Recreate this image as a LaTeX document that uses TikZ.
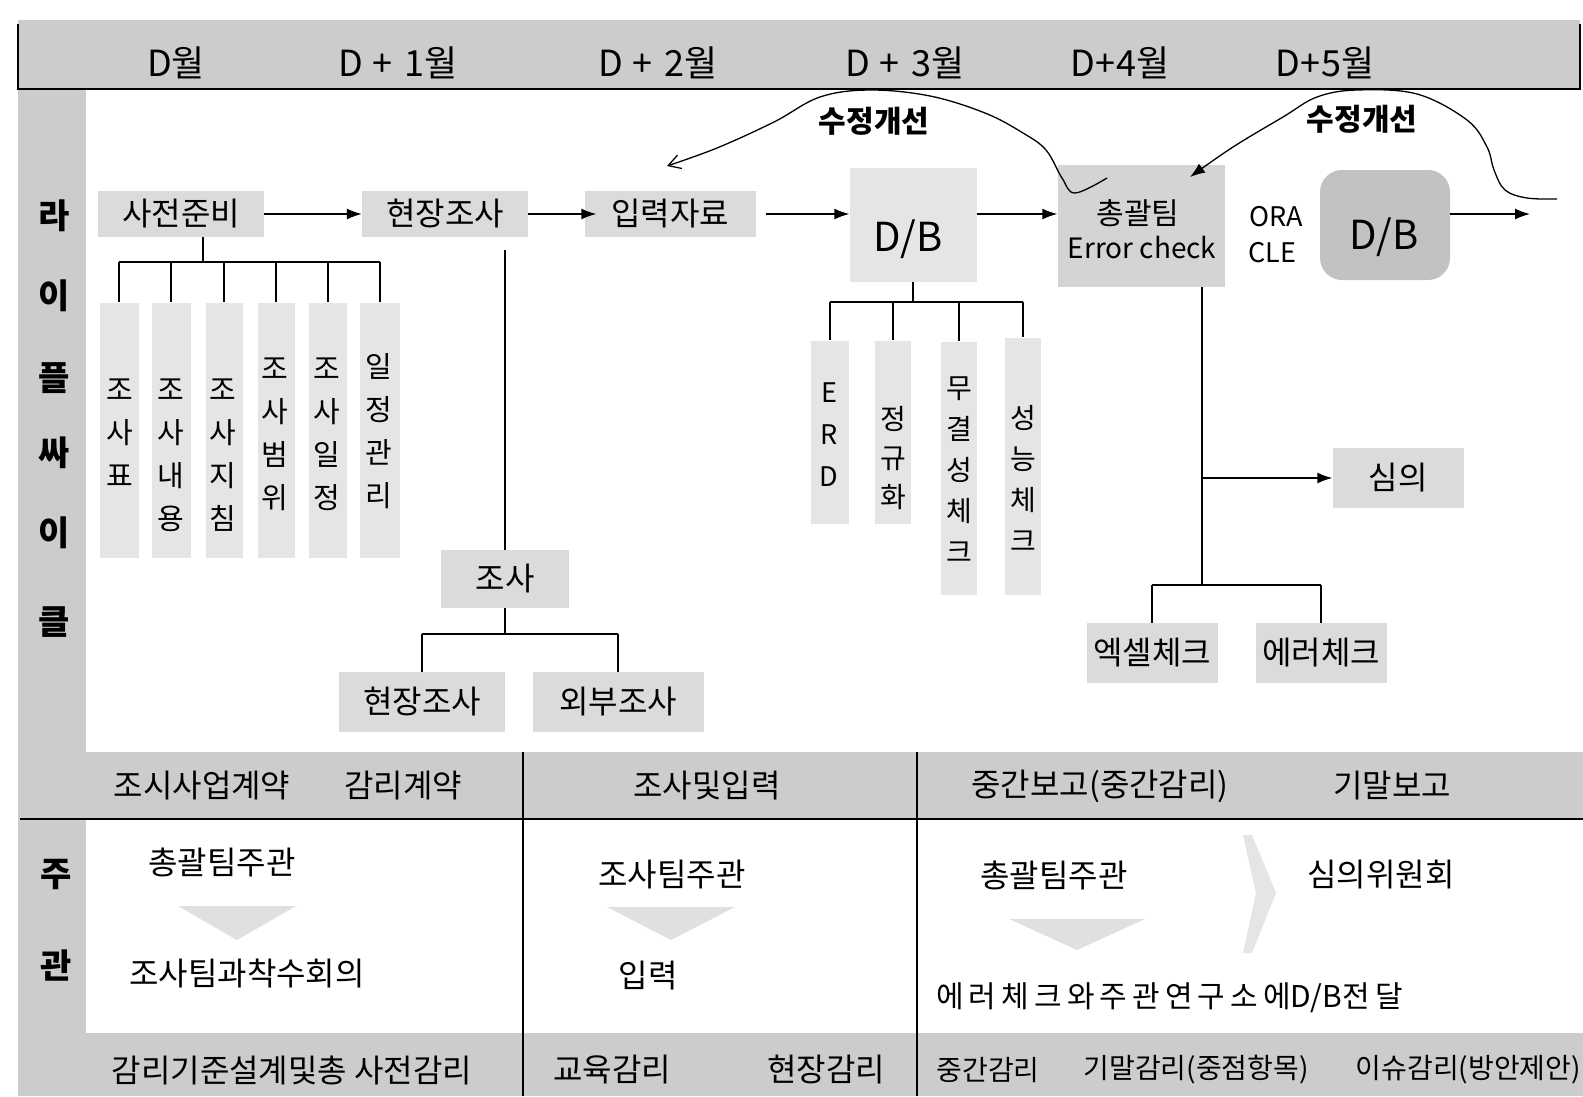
\documentclass[tikz,border=0pt]{standalone}
\usepackage{fontspec}
\setmainfont{Noto Sans CJK KR}
\usetikzlibrary{arrows.meta}
\begin{document}
\begin{tikzpicture}[x=1pt,y=-1pt,
  txt/.style={inner sep=0pt, font=\fontsize{32}{38}\selectfont},
  mon/.style={inner sep=0pt, font=\fontsize{36}{40}\selectfont},
  side/.style={inner sep=0pt, font=\bfseries\fontsize{34}{40}\selectfont},
  vtxt/.style={inner sep=0pt, align=center, font=\fontsize{29}{43}\selectfont},
  vtxtb/.style={inner sep=0pt, align=center, font=\fontsize{28}{41}\selectfont},
  big/.style={inner sep=0pt, font=\fontsize{40}{44}\selectfont},
  lat/.style={inner sep=0pt, font=\fontsize{27}{30}\selectfont},
  fixl/.style={inner sep=0pt, font=\bfseries\fontsize{30}{34}\selectfont},
  hbox/.style={fill=black!14, inner sep=0pt, font=\fontsize{32}{38}\selectfont},
  vbox/.style={fill=black!10, inner sep=0pt},
  ln/.style={line width=1.4pt},
  arr/.style={line width=1.4pt, -{Latex[length=15pt,width=11pt]}},
  tri/.style={fill=black!12, draw=none},
]
\useasboundingbox (0,0) rectangle (1583,1096);
\fill[white] (0,0) rectangle (1583,1096);
% frame bands
\fill[black!20] (18,20) rectangle (1580,89);
\fill[black!20] (18,89) rectangle (86,1096);
\fill[black!20] (86,752) rectangle (1583,819);
\fill[black!20] (86,1033) rectangle (1583,1096);
\draw[line width=1.6pt] (18,24) -- (18,89) -- (1580,89) -- (1580,24);
\draw[line width=2pt] (20,819) -- (1583,819);
\draw[ln] (523,752) -- (523,1096);
\draw[ln] (917,752) -- (917,1096);

% months
\node[mon] (m0) at (176,63) {D월};
\node[mon] (m1) at (398,63) {D\hspace{10pt}+\hspace{12pt}1월};
\node[mon] (m2) at (658,63) {D\hspace{10pt}+\hspace{12pt}2월};
\node[mon] (m3) at (905,63) {D\hspace{10pt}+\hspace{12pt}3월};
\node[mon] (m4) at (1120,63) {D\hspace{1pt}+\hspace{1pt}4월};
\node[mon] (m5) at (1325,63) {D\hspace{1pt}+\hspace{1pt}5월};

% side labels
\node[side] (s1) at (54,216) {라};
\node[side] (s2) at (54,296) {이};
\node[side] (s3) at (54,378) {플};
\node[side] (s4) at (54,453) {싸};
\node[side] (s5) at (54,533) {이};
\node[side] (s6) at (54,622) {클};
\node[side] (s7) at (56,875) {주};
\node[side] (s8) at (56,966) {관};

% main row
\node[hbox, minimum width=166pt, minimum height=46pt] (sj) at (181,214) {사전준비};
\node[hbox, minimum width=166pt, minimum height=46pt] (hj) at (445,214) {현장조사};
\node[hbox, minimum width=171pt, minimum height=46pt] (ij) at (670,214) {입력자료};
\node[vbox, minimum width=127pt, minimum height=114pt] (db1) at (913,225) {};
\node[big] (db1t) at (908,239) {D/B};
\node[vbox, fill=black!17, minimum width=167pt, minimum height=122pt] (cg) at (1141,226) {};
\node[txt, font=\fontsize{30}{34}\selectfont] (cgt1) at (1138,213) {총괄팀};
\node[lat, font=\fontsize{28}{32}\selectfont] (cgt2) at (1142,248) {Error check};
\node[lat] (ora) at (1276,217) {ORA};
\node[lat] (cle) at (1272,253) {CLE};
\node[vbox, fill=black!24, rounded corners=22pt, minimum width=130pt, minimum height=110pt] (db2) at (1385,225) {};
\node[big] (db2t) at (1384,237) {D/B};
\coordinate (dbout) at (1530,214);

\draw[arr] (sj.east) -- (hj.west);
\draw[arr] (hj.east) -- ([xshift=12pt]ij.west);
\draw[arr, shorten <=10pt] (ij.east) -- (ij.east -| db1.west);
\draw[arr] (db1.east |- ij.east) -- (cg.west |- ij.east);
\draw[arr] (db2.east |- dbout) -- (dbout);

% feedback curves
\coordinate (c1s) at (1107,178);
\coordinate (c1e) at (667,166);
\draw[line width=1.3pt, -{Straight Barb[length=12pt,width=14pt,line width=1.3pt]}]
  plot[smooth, tension=0.6] coordinates {(c1s) (1075,193) (1062,178) (1046,150) (1023,133) (985,113) (930,96) (870,90) (820,97) (774,122) (717,148) (c1e)};
\coordinate (c2s) at (1557,199);
\coordinate (c2e) at (1190,177);
\draw[line width=1.3pt, -{Latex[length=15pt,width=11pt]}]
  plot[smooth, tension=0.6] coordinates {(c2s) (1527,198) (1505,190) (1494,170) (1487,147) (1467,120) (1417,94) (1357,90) (1317,97) (1283,117) (1233,147) (c2e)};
\node[fixl] (fix1) at (874,121) {수정개선};
\node[fixl] (fix2) at (1362,119) {수정개선};

% tree under 사전준비
\node[vbox, minimum width=39pt, minimum height=255pt] (v1) at (119,430) {};
\node[vbox, minimum width=39pt, minimum height=255pt] (v2) at (171,430) {};
\node[vbox, minimum width=37pt, minimum height=255pt] (v3) at (224,430) {};
\node[vbox, minimum width=37pt, minimum height=255pt] (v4) at (276,430) {};
\node[vbox, minimum width=38pt, minimum height=255pt] (v5) at (328,430) {};
\node[vbox, minimum width=40pt, minimum height=255pt] (v6) at (380,430) {};
\node[vtxt] (v1t) at (120,433) {조\\사\\표};
\node[vtxt] (v2t) at (171,455) {조\\사\\내\\용};
\node[vtxt] (v3t) at (223,455) {조\\사\\지\\침};
\node[vtxt] (v4t) at (275,434) {조\\사\\범\\위};
\node[vtxt] (v5t) at (327,434) {조\\사\\일\\정};
\node[vtxt] (v6t) at (379,431) {일\\정\\관\\리};
\coordinate (sjbar) at (203,262);
\draw[ln] (sjbar |- sj.south) -- (sjbar);
\draw[ln] (v1.north |- sjbar) -- (v6.north |- sjbar);
\foreach \v in {v1,v2,v3,v4,v5,v6} \draw[ln] (\v.north |- sjbar) -- (\v.north);

% tree under 현장조사
\node[hbox, minimum width=128pt, minimum height=58pt] (josa) at (505,579) {조사};
\node[hbox, minimum width=166pt, minimum height=60pt] (hj2) at (422,702) {현장조사};
\node[hbox, minimum width=171pt, minimum height=60pt] (wb) at (618,702) {외부조사};
\coordinate (josabar) at (505,634);
\draw[ln, shorten <=13pt] (hj.south -| josa.north) -- (josa.north);
\draw[ln] (josa.south) -- (josabar);
\draw[ln] (hj2.north |- josabar) -- (wb.north |- josabar);
\draw[ln] (hj2.north |- josabar) -- (hj2.north);
\draw[ln] (wb.north |- josabar) -- (wb.north);

% tree under D/B
\node[vbox, minimum width=38pt, minimum height=183pt] (w1) at (830,432) {};
\node[vbox, minimum width=36pt, minimum height=183pt] (w2) at (893,432) {};
\node[vbox, minimum width=36pt, minimum height=253pt] (w3) at (959,468) {};
\node[vbox, minimum width=36pt, minimum height=257pt] (w4) at (1023,466) {};
\node[vtxtb, font=\fontsize{27}{42}\selectfont] (w1t) at (829,435) {E\\R\\D};
\node[vtxtb, font=\fontsize{28}{39}\selectfont] (w2t) at (893,458) {정\\규\\화};
\node[vtxtb] (w3t) at (959,470) {무\\결\\성\\체\\크};
\node[vtxtb] (w4t) at (1023,478) {성\\능\\체\\크};
\coordinate (dbbar) at (913,302);
\draw[ln] (db1.south) -- (dbbar);
\draw[ln] (w1.north |- dbbar) -- (w4.north |- dbbar);
\foreach \w in {w1,w2,w3,w4} \draw[ln] (\w.north |- dbbar) -- (\w.north);

% tree under 총괄팀
\node[hbox, minimum width=131pt, minimum height=60pt] (sim) at (1398,478) {심의};
\node[hbox, minimum width=131pt, minimum height=60pt] (ex) at (1152,653) {엑셀체크};
\node[hbox, minimum width=131pt, minimum height=60pt] (er) at (1321,653) {에러체크};
\coordinate (tk) at (1202,585);
\draw[ln] (tk |- cg.south) -- (tk);
\draw[arr] (tk |- sim.west) -- (sim.west);
\draw[ln] (ex.north |- tk) -- (er.north |- tk);
\draw[ln] (ex.north |- tk) -- (ex.north);
\draw[ln] (er.north |- tk) -- (er.north);

% bottom header row
\node[txt] (hd1) at (202,786) {조시사업계약};
\node[txt] (hd2) at (403,786) {감리계약};
\node[txt] (hd3) at (707,786) {조사및입력};
\node[txt] (hd4) at (1100,786) {중간보고(중간감리)};
\node[txt] (hd5) at (1392,786) {기말보고};

% bottom body
\node[txt] (b1) at (222,862) {총괄팀주관};
\fill[tri] (178,906) -- (296,906) -- (237,940) -- cycle;
\node[txt] (b2) at (247,973) {조사팀과착수회의};
\node[txt] (b3) at (672,875) {조사팀주관};
\fill[tri] (607,907) -- (735,907) -- (671,940) -- cycle;
\node[txt] (b4) at (648,976) {입력};
\node[txt] (b5) at (1054,875) {총괄팀주관};
\fill[tri] (1009,919) -- (1145,919) -- (1077,950) -- cycle;
\fill[tri, fill=black!10] (1243,835) -- (1252,835) -- (1276,893) -- (1252,953) -- (1243,953) -- (1256,893) -- cycle;
\node[txt] (b6) at (1381,875) {심의위원회};
\node[txt, anchor=west, font=\fontsize{30}{34}\selectfont] (b7) at (936,998) {{\addfontfeatures{LetterSpace=17}에러체크와주관연구소에}D/B{\addfontfeatures{LetterSpace=17}전달}};

% bottom row
\node[txt] (f1) at (292,1070) {감리기준설계및총 사전감리};
\node[txt] (f2) at (612,1070) {교육감리};
\node[txt] (f3) at (826,1070) {현장감리};
\node[txt, font=\fontsize{28}{32}\selectfont] (f4) at (988,1070) {중간감리};
\node[txt, font=\fontsize{28}{32}\selectfont] (f5) at (1196,1070) {기말감리(중점항목)};
\node[txt, font=\fontsize{28}{32}\selectfont, anchor=east] (f6) at (1581,1070) {이슈감리(방안제안)};
\end{tikzpicture}
\end{document}
